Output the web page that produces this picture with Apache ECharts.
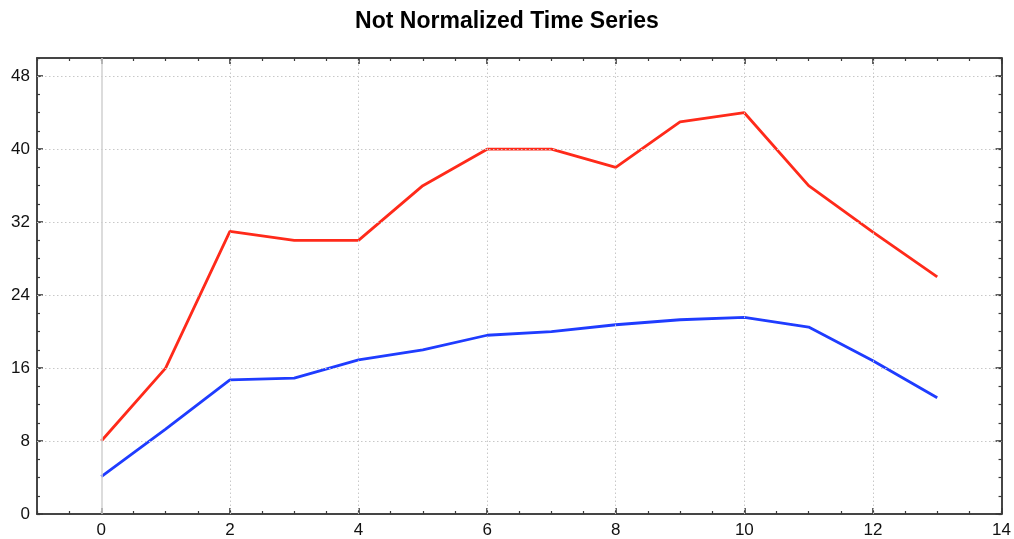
<!DOCTYPE html>
<html>
<head>
<meta charset="utf-8">
<script src="https://cdn.jsdelivr.net/npm/echarts@6/dist/echarts.min.js"></script>
<style>
  html, body { margin: 0; padding: 0; background: #fff; }
  #chart { width: 1014px; height: 539px; }
</style>
</head>
<body>
<div id="chart"></div>
<script>
// Time steps and the two series
const timeSteps = [0, 1, 2, 3, 4, 5, 6, 7, 8, 9, 10, 11, 12, 13];
const redValues = [8, 16, 31, 30, 30, 36, 40, 40, 38, 43, 44, 36, 30.9, 26];
const blueValues = [4.1, 9.3, 14.7, 14.9, 16.9, 18, 19.6, 20, 20.75, 21.3, 21.55, 20.5, 16.8, 12.75];

// Axis ticks
const xMajorTicks = [0, 2, 4, 6, 8, 10, 12, 14];
const yMajorTicks = [0, 8, 16, 24, 32, 40, 48];
const xGridLines = [2, 4, 6, 8, 10, 12];
const yGridLines = [8, 16, 24, 32, 40, 48];

const X_MIN = -1, X_MAX = 14, Y_MIN = 0, Y_MAX = 50;
const FRAME = '#3a3a3a';
const FONT = 'Liberation Sans';

function minorAxis(kind, position, interval) {
  return {
    type: 'value', position,
    min: kind === 'x' ? X_MIN : Y_MIN,
    max: kind === 'x' ? X_MAX : Y_MAX,
    interval,
    axisLine: { show: true, onZero: false, lineStyle: { color: FRAME, width: 1.5 } },
    axisTick: { show: true, inside: true, length: 3, lineStyle: { color: FRAME, width: 1.2 } },
    axisLabel: { show: false },
    splitLine: { show: false }
  };
}

function majorAxis(kind, position, ticks, showLabels) {
  return {
    type: 'value', position,
    min: kind === 'x' ? X_MIN : Y_MIN,
    max: kind === 'x' ? X_MAX : Y_MAX,
    axisLine: { show: true, onZero: false, lineStyle: { color: FRAME, width: 1.5 } },
    axisTick: { show: true, inside: true, length: 6, customValues: ticks, lineStyle: { color: FRAME, width: 1.6 } },
    axisLabel: {
      show: showLabels, customValues: ticks, margin: kind === 'x' ? 8 : 7,
      color: '#111', fontFamily: FONT, fontSize: 17
    },
    splitLine: { show: false }
  };
}

const pairs = (arrX, arrY) => arrX.map((x, i) => [x, arrY[i]]);

const chart = echarts.init(document.getElementById('chart'), null, { renderer: 'canvas' });
chart.setOption({
  animation: false,
  backgroundColor: '#fff',
  title: {
    text: 'Not Normalized Time Series',
    left: 'center', top: 5,
    textStyle: { fontFamily: FONT, fontWeight: 'bold', fontSize: 23, color: '#000' }
  },
  grid: { left: 37, right: 11, top: 58, bottom: 23, containLabel: false },
  xAxis: [
    majorAxis('x', 'bottom', xMajorTicks, true),
    minorAxis('x', 'bottom', 0.5),
    majorAxis('x', 'top', xMajorTicks, false),
    minorAxis('x', 'top', 0.5)
  ],
  yAxis: [
    majorAxis('y', 'left', yMajorTicks, true),
    minorAxis('y', 'left', 2),
    majorAxis('y', 'right', yMajorTicks, false),
    minorAxis('y', 'right', 2)
  ],
  series: [
    {
      name: 'grid', type: 'line', data: [], silent: true,
      markLine: {
        silent: true, symbol: 'none', label: { show: false }, animation: false,
        lineStyle: { color: '#c8c8c8', width: 1, type: [1.5, 2.5] },
        data: [
          ...xGridLines.map(v => ({ xAxis: v })),
          ...yGridLines.map(v => ({ yAxis: v })),
          { xAxis: 0, lineStyle: { type: 'solid', color: '#d0d0d0', width: 1.5 } }
        ]
      }
    },
    {
      name: 'red', type: 'line', data: pairs(timeSteps, redValues),
      showSymbol: false, symbol: 'none',
      lineStyle: { color: '#ff2a1a', width: 2.8 }
    },
    {
      name: 'blue', type: 'line', data: pairs(timeSteps, blueValues),
      showSymbol: false, symbol: 'none',
      lineStyle: { color: '#1f3cff', width: 2.8 }
    }
  ]
});
</script>
</body>
</html>
